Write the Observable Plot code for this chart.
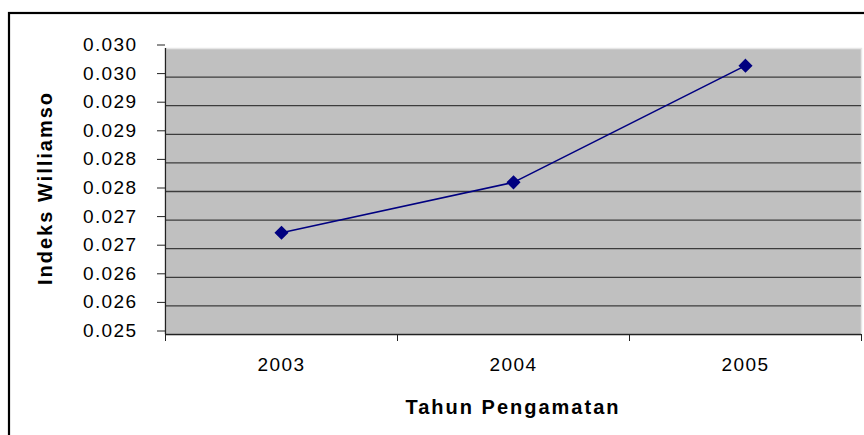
<!DOCTYPE html>
<html>
<head>
<meta charset="utf-8">
<script src="https://cdn.jsdelivr.net/npm/d3@7"></script>
<script src="https://cdn.jsdelivr.net/npm/@observablehq/plot@0.6"></script>
<style>
  html, body { margin: 0; padding: 0; background: white; }
  #chart { width: 864px; height: 435px; overflow: hidden; }
</style>
</head>
<body>
<div id="chart"></div>
<script>
// ---- data ----
const years = [2003, 2004, 2005];
const williamson = [0.02678, 0.02766, 0.02970];
const yTickValues = [0.025, 0.0255, 0.026, 0.0265, 0.027, 0.0275, 0.028, 0.0285, 0.029, 0.0295, 0.030];
const yTickLabels = ["0.025", "0.026", "0.026", "0.027", "0.027", "0.028", "0.028", "0.029", "0.029", "0.030", "0.030"];
const xTickLabels = ["2003", "2004", "2005"];
const xTitle = "Tahun Pengamatan";
const yTitle = "Indeks Williamson";

const data = years.map((y, i) => ({year: y, value: williamson[i]}));
const boundaries = years.map(y => y - 0.5).concat([years[years.length - 1] + 0.5]);
const gridValues = yTickValues.slice(1, -1);

const chart = Plot.plot({
  width: 864,
  height: 435,
  marginLeft: 165,
  marginRight: 3,
  marginTop: 48,
  marginBottom: 101,
  style: {fontFamily: "'Liberation Sans', Arial, sans-serif", fontSize: "19px", background: "white", color: "black", letterSpacing: "1.4px"},
  x: {type: "linear", domain: [boundaries[0], boundaries[boundaries.length - 1]]},
  y: {domain: [yTickValues[0], yTickValues[yTickValues.length - 1]]},
  marks: [
    Plot.frame({fill: "#c0c0c0", stroke: "#e6e6e6", strokeWidth: 1.5}),
    Plot.gridY(gridValues, {stroke: "#3c3c3c", strokeOpacity: 1, strokeWidth: 1.3}),
    Plot.ruleY([yTickValues[0]], {stroke: "#222", strokeWidth: 1.3}),
    Plot.ruleX([boundaries[0]], {stroke: "#222", strokeWidth: 1.3}),
    Plot.axisY({ticks: yTickValues, tickFormat: (d, i) => yTickLabels[i], tickSize: 8, tickPadding: 20, label: null, dy: -3.5, stroke: "#222"}),
    Plot.axisX({ticks: boundaries, tickSize: 7, text: null, label: null, stroke: "#222"}),
    Plot.axisX({ticks: years, tickFormat: (d, i) => xTickLabels[i], tickSize: 0, tickPadding: 23, label: null}),
    Plot.line(data, {x: "year", y: "value", stroke: "#000080", strokeWidth: 1.6}),
    Plot.dot(data, {x: "year", y: "value", symbol: "diamond2", r: 5.4, fill: "#000080", stroke: "#000080"})
  ]
});

const svg = d3.select(chart);
svg.attr("overflow", "hidden");
// outer chart-area border
svg.insert("rect", ":first-child")
  .attr("x", 9).attr("y", 13).attr("width", 900).attr("height", 500)
  .attr("fill", "white").attr("stroke", "black").attr("stroke-width", 2.2);
svg.select("rect").lower();

// axis titles
svg.append("text")
  .attr("x", 513).attr("y", 414)
  .attr("text-anchor", "middle")
  .attr("font-weight", "bold").attr("font-size", 20).attr("letter-spacing", "2px")
  .attr("fill", "black")
  .text(xTitle);

svg.append("clipPath").attr("id", "yclip")
  .append("rect").attr("x", 0).attr("y", 90).attr("width", 100).attr("height", 345);
svg.append("g").attr("clip-path", "url(#yclip)")
  .append("text")
  .attr("transform", "translate(52,285) rotate(-90)")
  .attr("text-anchor", "start")
  .attr("font-weight", "bold").attr("font-size", 20).attr("letter-spacing", "2px")
  .attr("fill", "black")
  .text(yTitle);

document.getElementById("chart").appendChild(chart);
</script>
</body>
</html>
